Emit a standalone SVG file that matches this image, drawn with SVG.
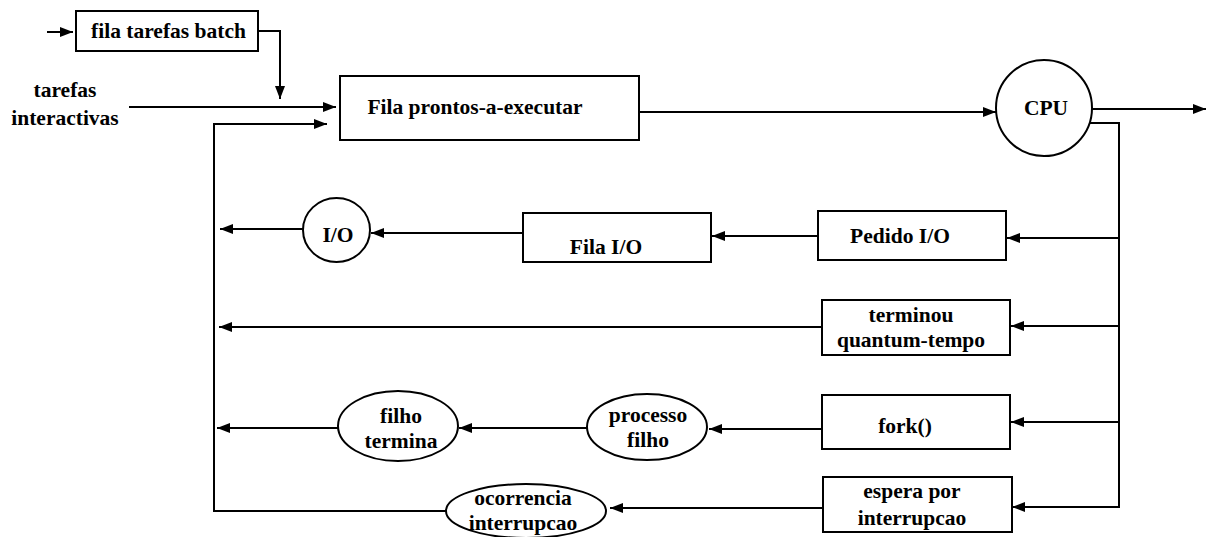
<svg xmlns="http://www.w3.org/2000/svg" width="1207" height="537" viewBox="0 0 1207 537">
<style>
.n{fill:#fff;stroke:#000;stroke-width:2}
text{font-family:'Liberation Serif','DejaVu Serif',serif;font-weight:bold;font-size:21.5px;fill:#000;text-anchor:middle}
.c{fill:none;stroke:#000;stroke-width:2}
.a{marker-end:url(#ah)}
</style>
<defs>
<marker id="ah" markerUnits="userSpaceOnUse" markerWidth="13" markerHeight="10" refX="13" refY="5" orient="auto">
<path d="M0,0 L13,5 L0,10 z" fill="#000"/>
</marker>
</defs>
<rect width="1207" height="537" fill="#fff"/>
<g id="connectors">
<path class="c a" d="M47,32 H73"/>
<path class="c a" d="M258,31 H280 V99"/>
<path class="c a" d="M129,107 H336"/>
<path class="c a" d="M446,511 H214 V124 H327"/>
<path class="c a" d="M639,112 H996"/>
<path class="c a" d="M1092,109 H1206"/>
<path class="c a" d="M1088,123 H1119 V507 H1012"/>
<path class="c a" d="M1119,238 H1007"/>
<path class="c a" d="M1119,326 H1011"/>
<path class="c a" d="M1119,422 H1011"/>
<path class="c a" d="M818,236 H712"/>
<path class="c a" d="M523,233 H371"/>
<path class="c a" d="M303,229 H220"/>
<path class="c a" d="M822,327 H219"/>
<path class="c a" d="M822,429 H709"/>
<path class="c a" d="M587,428 H459"/>
<path class="c a" d="M338,428 H217"/>
<path class="c a" d="M823,508 H610"/>
</g>
<g id="batch">
<rect class="n" x="76" y="11" width="182" height="40"/>
<text font-family="Liberation Serif, serif" x="168.5" y="38">fila tarefas batch</text>
</g>
<g id="interactivas">
<text x="65" y="97">tarefas</text>
<text x="65" y="125">interactivas</text>
</g>
<g id="fila-prontos">
<rect class="n" x="340" y="76" width="299" height="64"/>
<text x="475" y="114">Fila prontos-a-executar</text>
</g>
<g id="cpu">
<circle class="n" cx="1044" cy="108" r="48"/>
<text x="1046" y="115">CPU</text>
</g>
<g id="pedido-io">
<rect class="n" x="818" y="211" width="188" height="49"/>
<text x="900" y="243">Pedido I/O</text>
</g>
<g id="fila-io">
<rect class="n" x="523" y="213" width="188" height="49"/>
<text x="606" y="254">Fila I/O</text>
</g>
<g id="io">
<ellipse class="n" cx="336.5" cy="230" rx="33.5" ry="32"/>
<text x="338" y="242">I/O</text>
</g>
<g id="terminou">
<rect class="n" x="822" y="300" width="188" height="55"/>
<text x="911" y="322">terminou</text>
<text x="911" y="347">quantum-tempo</text>
</g>
<g id="fork">
<rect class="n" x="822" y="395" width="188" height="54"/>
<text x="905" y="433">fork()</text>
</g>
<g id="processo-filho">
<ellipse class="n" cx="647" cy="427" rx="60" ry="33"/>
<text x="648" y="422">processo</text>
<text x="648" y="447">filho</text>
</g>
<g id="filho-termina">
<ellipse class="n" cx="398" cy="426" rx="60" ry="35"/>
<text x="401" y="423">filho</text>
<text x="401" y="448">termina</text>
</g>
<g id="espera">
<rect class="n" x="823" y="477" width="189" height="55"/>
<text x="912" y="498">espera por</text>
<text x="912" y="525">interrupcao</text>
</g>
<g id="ocorrencia">
<ellipse class="n" cx="526" cy="511" rx="80" ry="27"/>
<text x="523" y="505">ocorrencia</text>
<text x="523" y="530">interrupcao</text>
</g>
</svg>
